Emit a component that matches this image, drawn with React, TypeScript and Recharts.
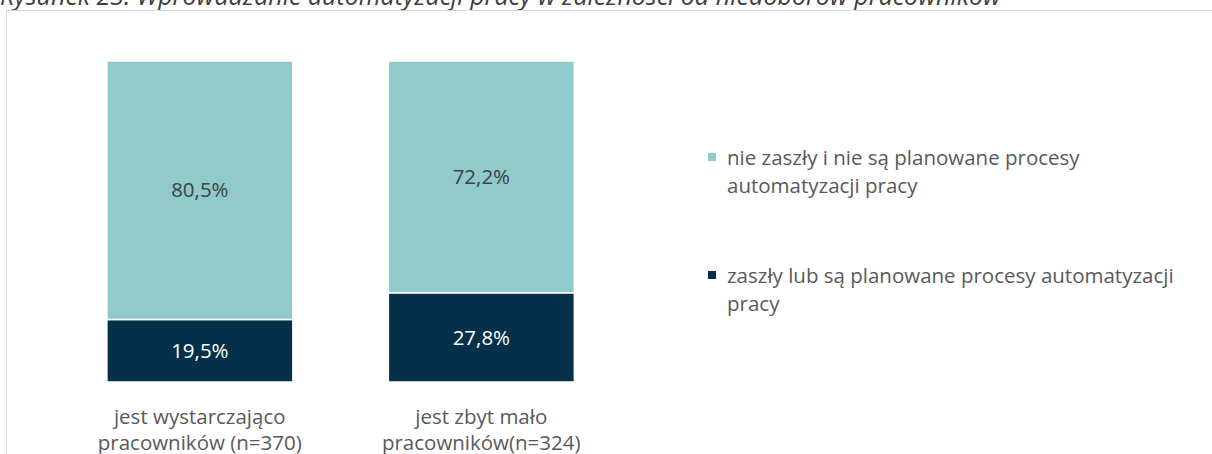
import { Bar, BarChart, LabelList, XAxis, YAxis } from 'recharts';

const categories = ['jest wystarczająco pracowników (n=370)', 'jest zbyt mało pracowników(n=324)'];
const categoryLines = [
  ['jest wystarczająco', 'pracowników (n=370)'],
  ['jest zbyt mało', 'pracowników(n=324)'],
];
const planned = [19.5, 27.8];
const notPlanned = [80.5, 72.2];

const PLANNED_NAME = 'zaszły lub są planowane procesy automatyzacji pracy';
const NOT_PLANNED_NAME = 'nie zaszły i nie są planowane procesy automatyzacji pracy';
const TITLE = 'Rysunek 23. Wprowadzanie automatyzacji pracy w zależności od niedoborów pracowników';

const TEAL = '#91cacb';
const NAVY = '#05304a';
const TEXT = '#595959';
const FONT = '"Open Sans", sans-serif';
const FS = 20.5;

const data = categories.map((name, i) => ({
  name,
  planned: planned[i],
  notPlanned: notPlanned[i],
}));

const pct = (v: number) => `${v.toFixed(1).replace('.', ',')}%`;

function CategoryTick({ x, y, payload }: { x?: number; y?: number; payload?: { index: number } }) {
  const lines = categoryLines[payload?.index ?? 0];
  return (
    <text x={x} y={y} textAnchor="middle" fill={TEXT} fontSize={FS} fontFamily={FONT}>
      {lines.map((line, i) => (
        <tspan key={line} x={x} dy={i === 0 ? 42 : 26}>
          {line}
        </tspan>
      ))}
    </text>
  );
}

function LegendBox() {
  const items = [
    { name: NOT_PLANNED_NAME, color: TEAL },
    { name: PLANNED_NAME, color: NAVY },
  ];
  return (
    <div
      style={{
        position: 'absolute',
        left: 708,
        top: 143,
        fontFamily: FONT,
        fontSize: FS,
        color: TEXT,
        lineHeight: '28px',
      }}
    >
      {items.map((item) => (
        <div key={item.name} style={{ display: 'flex', alignItems: 'flex-start', marginBottom: 62 }}>
          <span
            style={{
              width: 8,
              height: 8,
              background: item.color,
              marginTop: 10,
              marginRight: 11,
              flex: 'none',
            }}
          />
          <span style={{ width: 470 }}>{item.name}</span>
        </div>
      ))}
    </div>
  );
}

export default function App() {
  return (
    <div
      style={{
        position: 'fixed',
        top: 0,
        left: 0,
        width: 1212,
        height: 454,
        overflow: 'hidden',
        background: '#fff',
      }}
    >
      <svg width={1212} height={20} style={{ position: 'absolute', top: 0, left: 0 }}>
        <text x={0} y={5} fill="#404040" fontSize={25} fontStyle="italic" fontFamily={FONT}>
          {TITLE}
        </text>
      </svg>
      <div
        style={{
          position: 'absolute',
          left: 6,
          top: 10,
          width: 1300,
          height: 500,
          border: '1.5px solid #d9d9d9',
        }}
      />
      <div style={{ position: 'absolute', top: 0, left: 0 }}>
        <BarChart
          width={1212}
          height={454}
          data={data}
          margin={{ top: 61, right: 590, bottom: 0, left: 59 }}
          barCategoryGap="17%"
        >
          <XAxis
            dataKey="name"
            height={72}
            axisLine={false}
            tickLine={false}
            tickSize={0}
            tickMargin={0}
            interval={0}
            tick={<CategoryTick />}
          />
          <YAxis hide domain={[0, 100]} />
          <Bar
            dataKey="planned"
            name={PLANNED_NAME}
            stackId="a"
            fill={NAVY}
            stroke="#fff"
            strokeWidth={1.5}
            isAnimationActive={false}
          >
            <LabelList
              dataKey="planned"
              position="center"
              formatter={(v: number) => pct(v)}
              fill="#fff"
              fontSize={FS}
              fontFamily={FONT}
            />
          </Bar>
          <Bar
            dataKey="notPlanned"
            name={NOT_PLANNED_NAME}
            stackId="a"
            fill={TEAL}
            stroke="#fff"
            strokeWidth={1.5}
            isAnimationActive={false}
          >
            <LabelList
              dataKey="notPlanned"
              position="center"
              formatter={(v: number) => pct(v)}
              fill="#404040"
              fontSize={FS}
              fontFamily={FONT}
            />
          </Bar>
        </BarChart>
      </div>
      <LegendBox />
    </div>
  );
}
